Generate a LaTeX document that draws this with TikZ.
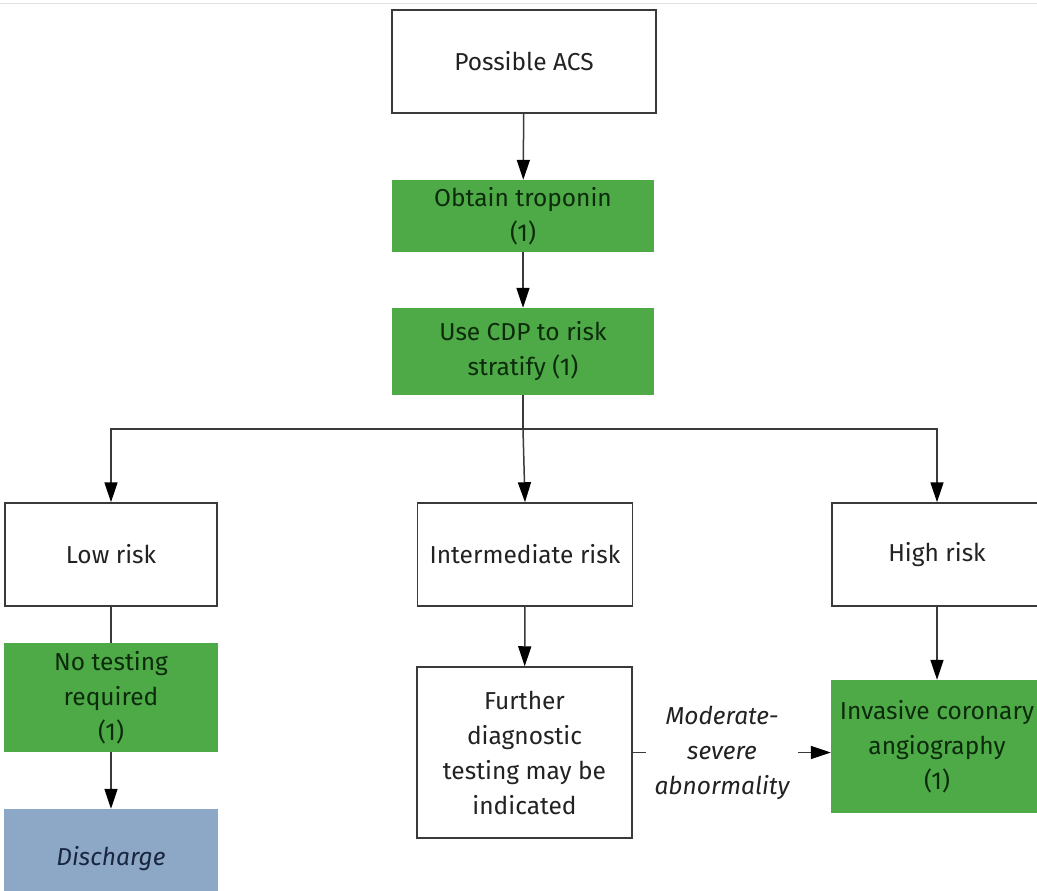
\documentclass[tikz,border=0pt]{standalone}
\usepackage{fontspec}
\setmainfont{Fira Sans}
\usetikzlibrary{arrows.meta,positioning,calc}
\definecolor{boxgreen}{HTML}{4EA947}
\definecolor{greentext}{HTML}{0B2B0B}
\definecolor{dischblue}{HTML}{8CA8C6}
\definecolor{navytext}{HTML}{1A2540}
\definecolor{linegray}{HTML}{3A3A3A}
\definecolor{darktext}{HTML}{222222}
\tikzset{
  basefont/.style={font=\fontsize{24.5}{35}\selectfont, align=center, inner sep=0pt},
  whitebox/.style={basefont, draw=linegray, line width=1.5pt, fill=white, text=darktext},
  greenbox/.style={basefont, fill=boxgreen, text=greentext},
  bluebox/.style={basefont, fill=dischblue, text=navytext, font=\fontsize{24.5}{35}\selectfont\itshape},
  conn/.style={draw=linegray, line width=1.5pt},
  arr/.style={conn, -{Triangle[length=20pt,width=13pt,color=black]}},
  lbl/.style={basefont, text=darktext, font=\fontsize{24.5}{35}\selectfont\itshape, inner xsep=8pt},
}
\begin{document}
\begin{tikzpicture}[x=1pt,y=-1pt]
\useasboundingbox (0,0) rectangle (1037,891);
\fill[white] (0,0) rectangle (1037,891);
% faint top line
\coordinate (tl) at (0,4);
\coordinate (tr) at (1037,4);
\draw[black!12, line width=1pt] (tl) -- (tr);

\node[whitebox, minimum width=264pt, minimum height=103pt] (acs) at (524,61.5) {Possible ACS};
\node[greenbox, minimum width=262pt, minimum height=72pt] (trop) at (523,216) {Obtain troponin\\(1)};
\node[greenbox, minimum width=262pt, minimum height=87pt] (cdp) at (523,351.5) {Use CDP to risk\\stratify (1)};

\node[whitebox, minimum width=212pt, minimum height=103pt] (low) at (111,554.5) {Low risk};
\node[whitebox, minimum width=215pt, minimum height=103pt] (inter) at (525,554.5) {Intermediate risk};
\node[whitebox, minimum width=210pt, minimum height=103pt] (high) at (937,554.5) {High risk};

\node[greenbox, minimum width=214pt, minimum height=109pt] (notest) at (111,697.5) {No testing\\required\\(1)};
\node[bluebox, minimum width=214pt, minimum height=100pt] (disch) at (111,859) {Discharge};

\node[whitebox, minimum width=215pt, minimum height=171pt] (further) at (524.5,752.5) {Further\\diagnostic\\testing may be\\indicated};
\node[greenbox, minimum width=212pt, minimum height=133pt] (inv) at (937,746.5) {Invasive coronary\\angiography\\(1)};

\node[lbl] (mod) at (722,752.5) {Moderate-\\severe\\abnormality};

\draw[arr] (acs) -- (trop);
\draw[arr] (trop) -- (cdp);
\coordinate (split) at ($(cdp.south)+(0,34)$);
\draw[conn] (cdp.south) -- (split);
\draw[arr] (split) -| (low.north);
\draw[arr] (split) -- (inter.north);
\draw[arr] (split) -| (high.north);

\draw[conn] (low) -- (notest);
\draw[arr] (notest) -- (disch);
\draw[arr] (inter) -- (further);
\draw[arr] (high) -- (inv);

\draw[conn] (further.east |- mod) -- (mod.west);
\draw[arr] (mod.east) -- (mod.east -| inv.west);
\end{tikzpicture}
\end{document}
